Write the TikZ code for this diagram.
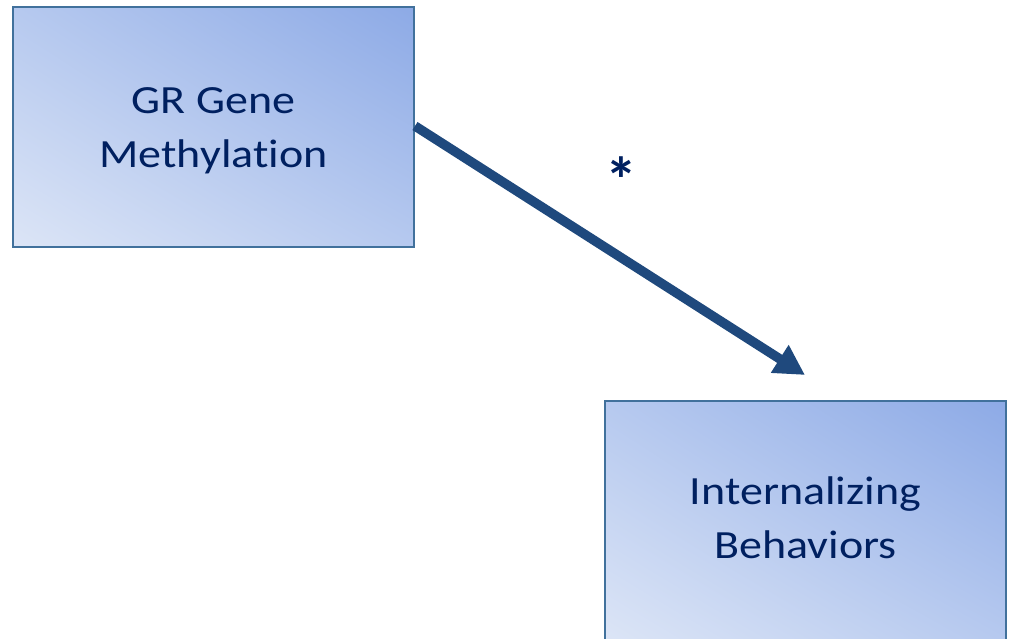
\documentclass[tikz,border=0pt]{standalone}
\usepackage{fontspec}
\setmainfont{Carlito}
\newfontfamily\boxfont[FakeStretch=1.15,Ligatures={NoCommon}]{Carlito}
\usetikzlibrary{arrows.meta,shadings}
\definecolor{boxtext}{HTML}{002060}
\definecolor{boxline}{HTML}{41719C}
\definecolor{arrowblue}{HTML}{1F497D}
\definecolor{shadeLL}{HTML}{DCE5F6}
\definecolor{shadeUR}{HTML}{8DAAE6}
\definecolor{shadeMid}{HTML}{B6C9EF}
% invisible struts so both two-line labels get the same box height
\newcommand\firststrut{\rule{0pt}{30pt}}
\newcommand\laststrut{\rule[-10pt]{0pt}{10pt}}
\tikzset{
  varbox/.style={rectangle, draw=boxline, line width=2pt,
    minimum width=401pt, minimum height=240pt, inner sep=0pt,
    lower left=shadeLL, upper right=shadeUR,
    upper left=shadeMid, lower right=shadeMid},
  boxlabel/.style={align=center, text=boxtext, inner sep=0pt,
    font=\boxfont\fontsize{40}{54}\selectfont},
  effect/.style={-{Triangle[length=30pt,width=31pt]}, line width=9.5pt, draw=arrowblue},
  sig/.style={text=boxtext, inner sep=0pt, anchor=north,
    font=\bfseries\fontsize{64}{64}\selectfont}
}
\begin{document}
\begin{tikzpicture}[x=1pt, y=-1pt]
  \useasboundingbox (0,0) rectangle (1010,639);
  \clip (0,0) rectangle (1010,639);
  \node[varbox] (meth) at (213.5,127.5) {};
  \node[boxlabel] (methtext) at ([yshift=-3.5pt]meth.center)
    {\firststrut GR Gene\\Methylation\laststrut};
  \node[varbox] (intern) at (805.5,521) {};
  \node[boxlabel] (interntext) at (intern.center)
    {\firststrut Internalizing\\Behaviors\laststrut};
  \coordinate (tip) at (805,375);
  \draw[effect] ([yshift=1.5pt]meth.east) -- (tip);
  \node[sig] (star) at (621,156.5) {*};
\end{tikzpicture}
\end{document}
